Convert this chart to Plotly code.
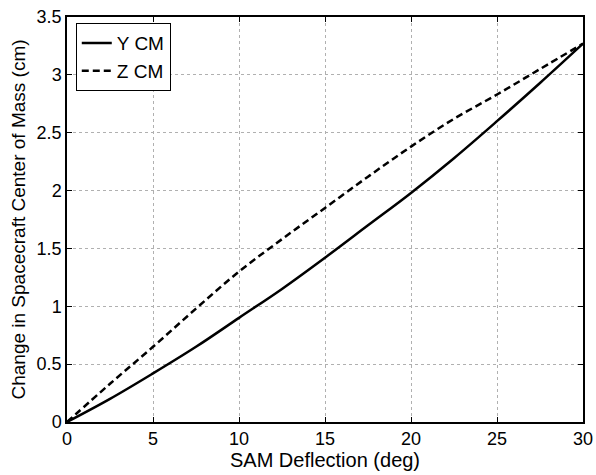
import plotly.graph_objects as go

deflection = [0, 2.5, 5, 7.5, 10, 12.5, 15, 17.5, 20, 22.5, 25, 27.5, 30]
y_cm = [0, 0.2, 0.42, 0.65, 0.9, 1.15, 1.42, 1.7, 1.98, 2.28, 2.6, 2.93, 3.27]
z_cm = [0, 0.33, 0.65, 0.98, 1.3, 1.58, 1.85, 2.12, 2.38, 2.62, 2.83, 3.05, 3.27]
x_ticks = [0, 5, 10, 15, 20, 25, 30]
y_ticks = [0, 0.5, 1, 1.5, 2, 2.5, 3, 3.5]
y_tick_text = ["0", "0.5", "1", "1.5", "2", "2.5", "3", "3.5"]

fig = go.Figure()
fig.add_trace(go.Scatter(x=deflection, y=y_cm, mode="lines", name="Y CM",
                         line=dict(color="black", width=2.5, shape="spline")))
fig.add_trace(go.Scatter(x=deflection, y=z_cm, mode="lines", name="Z CM",
                         line=dict(color="black", width=2.5, dash="7px,4px", shape="spline")))

axis_common = dict(
    showline=True, linecolor="black", linewidth=1.5, mirror="ticks",
    ticks="inside", ticklen=5, tickcolor="black",
    showgrid=True, gridcolor="#b0b0b0", griddash="dot", gridwidth=1,
    zeroline=False, tickfont=dict(size=18, color="black"),
    automargin=False,
)

fig.update_xaxes(range=[0, 30], tickvals=x_ticks,
                 title=dict(text="SAM Deflection (deg)", font=dict(size=20, color="black"), standoff=2),
                 **axis_common)
fig.update_yaxes(range=[0, 3.5], tickvals=y_ticks, ticktext=y_tick_text,
                 title=dict(text="Change in Spacecraft Center of Mass (cm)", font=dict(size=19, color="black"), standoff=6),
                 **axis_common)

fig.update_layout(
    width=596, height=475,
    margin=dict(l=67, r=13, t=17, b=53),
    plot_bgcolor="white", paper_bgcolor="white",
    font=dict(family="Liberation Sans, Arial, sans-serif", color="black"),
    showlegend=True,
    legend=dict(x=0.017, y=0.985, xanchor="left", yanchor="top",
                bgcolor="white", bordercolor="black", borderwidth=1,
                font=dict(size=19, color="black"), tracegroupgap=0,
                itemwidth=30),
)

fig.write_html("out.html", post_script="document.body.style.margin='0';",
               config={"displayModeBar": False})
